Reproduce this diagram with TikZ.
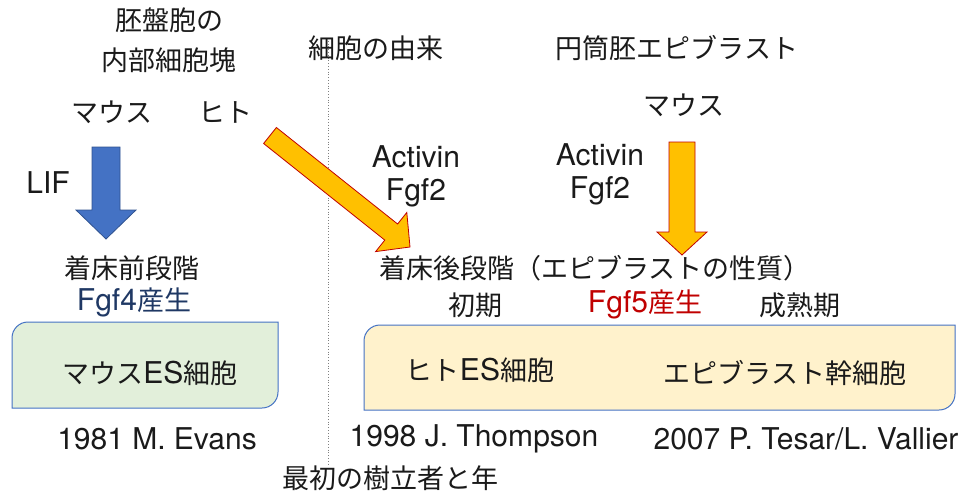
\documentclass[tikz,border=0pt]{standalone}
\usepackage{fontspec}
\setmainfont{Noto Sans CJK JP}
\newfontfamily\latfont{TeX Gyre Heros}
\newcommand\latx[1]{{\latfont\fontsize{30}{36}\selectfont #1}}
\definecolor{txtc}{HTML}{1A1A1A}
\definecolor{navy}{HTML}{1F3864}
\definecolor{darkred}{HTML}{C00000}
\definecolor{arrowblue}{HTML}{4472C4}
\definecolor{arrowblueedge}{HTML}{2F528F}
\definecolor{gold}{HTML}{FFC000}
\definecolor{greenfill}{HTML}{E2EFDA}
\definecolor{yellowfill}{HTML}{FFF2CC}
\begin{document}
\begin{tikzpicture}[x=1pt,y=-1pt,
  txt/.style={font=\fontsize{27}{40}\selectfont, text=txtc, inner sep=0pt, align=center},
  lattxt/.style={font=\latfont\fontsize{30}{33}\selectfont, text=txtc, inner sep=0pt, align=center},
  bluearrow/.style={fill=arrowblue, draw=arrowblueedge, line width=0.8pt},
  goldarrow/.style={fill=gold, draw=darkred, line width=0.8pt},
  cellbox/.style={draw=arrowblue, line width=1pt},
  divider/.style={draw=gray, dotted, line width=0.8pt}]
\useasboundingbox (0,0) rectangle (967,493);
% divider
\coordinate (dtop) at (328,38);
\coordinate (dbot) at (328,466);
\draw[divider] (dtop) -- (dbot);
% boxes
\fill[greenfill] (12,338) arc (180:270:16) -- (278,322) -- (278,392) arc (0:90:16) -- (12,408) -- cycle;
\draw[cellbox] (12,338) arc (180:270:16) -- (278,322) -- (278,392) arc (0:90:16) -- (12,408) -- cycle;
\fill[yellowfill] (364,341) arc (180:270:16) -- (955,325) -- (955,394) arc (0:90:16) -- (364,410) -- cycle;
\draw[cellbox] (364,341) arc (180:270:16) -- (955,325) -- (955,394) arc (0:90:16) -- (364,410) -- cycle;
% arrows
\draw[bluearrow] (92,147) -- (120,147) -- (120,210) -- (136,210) -- (106,239) -- (76,210) -- (92,210) -- cycle;
\draw[goldarrow] (669,142) -- (695,142) -- (695,232) -- (707,232) -- (682,255) -- (657,232) -- (669,232) -- cycle;
\draw[goldarrow] (276.4,127.5) -- (397.6,224.0) -- (406.8,212.5) -- (410,247) -- (375.6,251.6) -- (384.8,240.1) -- (263.6,143.5) -- cycle;
% texts
\node[txt] (blast) at (169,40) {胚盤胞の\\内部細胞塊};
\node[txt] (mouse1) at (112,112) {マウス};
\node[txt] (human1) at (225,112) {ヒト};
\node[txt] (origin) at (376,48) {細胞の由来};
\node[txt] (epi) at (677,48) {円筒胚エピブラスト};
\node[txt] (mouse2) at (684,105) {マウス};
\node[lattxt] (lif) at (48,183) {LIF};
\node[lattxt] (act1) at (416,176) {Activin\\Fgf2};
\node[lattxt] (act2) at (600,174) {Activin\\Fgf2};
\node[txt] (pre) at (132,268) {着床前段階};
\node[txt, text=navy] (fgf4) at (134,302) {\latx{Fgf4}産生};
\node[txt] (post) at (595,268) {着床後段階（エピブラストの性質）};
\node[txt] (early) at (475,305) {初期};
\node[txt, text=darkred] (fgf5) at (645,304) {\latx{Fgf5}産生};
\node[txt] (late) at (800,305) {成熟期};
\node[txt] (mes) at (150,373) {マウス\latx{ES}細胞};
\node[txt] (hes) at (480,370) {ヒト\latx{ES}細胞};
\node[txt] (episc) at (785,373) {エピブラスト幹細胞};
\node[lattxt] (evans) at (157,439) {1981 M. Evans};
\node[lattxt] (thompson) at (474,439) {1998 J. Thompson};
\node[lattxt] (tesar) at (806,439) {2007 P. Tesar/L. Vallier};
\node[txt] (first) at (390,478) {最初の樹立者と年};
\end{tikzpicture}
\end{document}
